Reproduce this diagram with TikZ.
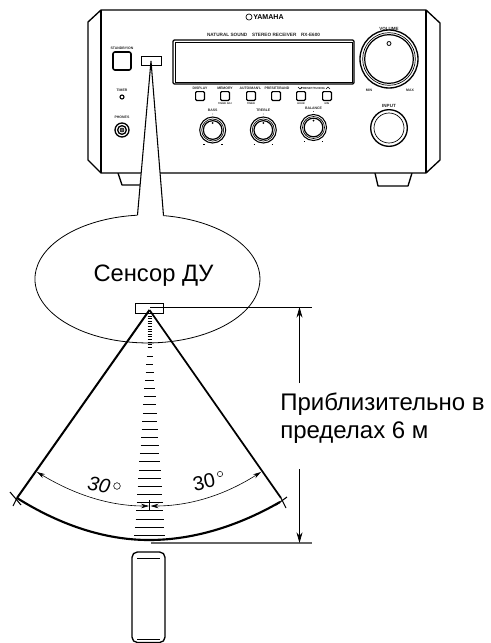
\documentclass[tikz,border=0pt]{standalone}
\usepackage{fontspec}
\setmainfont{Liberation Sans}
\usetikzlibrary{arrows.meta}
\tikzset{
 x=0.75pt,y=-0.75pt,
 lab/.style={font=\fontsize{2.6pt}{2.6pt}\selectfont\bfseries,inner sep=0,text=black!85},
 labbig/.style={font=\fontsize{3.4pt}{3.4pt}\selectfont\bfseries,inner sep=0,text=black!85},
 labsm/.style={font=\fontsize{1.9pt}{1.9pt}\selectfont\bfseries,inner sep=0,text=black!85},
 btn/.style={draw,line width=0.9pt,rounded corners=0.8pt,minimum size=6.6pt,inner sep=0},
 body/.style={line width=1pt,line join=round},
 big/.style={font=\fontsize{17.8pt}{17.8pt}\selectfont,inner sep=0},
 dimline/.style={line width=0.6pt},
 dimtip/.style={-{Stealth[length=8pt,width=4.5pt]}},
 angletip/.style={{Stealth[length=6pt,width=3.4pt]}-{Stealth[length=6pt,width=3.4pt]}},
 rung/.style={line width=0.7pt},
}
\begin{document}
\begin{tikzpicture}
\useasboundingbox (0,0) rectangle (491,643);
\fill[white] (0,0) rectangle (491,643);
% feet
\draw[body] (118,173) -- (122,185) -- (158,185);
\draw[body] (375,173) -- (378,186) -- (408,186) -- (412,173);
% chassis
\draw[body,fill=white] (101,10) -- (426,10) -- (440,23) -- (440,160) -- (426,173) -- (101,173) -- (88,160) -- (88,22) -- cycle;
\draw[body] (101,10) -- (101,173);
\draw[body] (426,10) -- (426,173);
% logo
\node[draw,circle,line width=0.5pt,minimum size=4.6pt,inner sep=0] (logoc) at (249,17) {};
\node[inner sep=0,font=\fontsize{5.3pt}{5.3pt}\selectfont\bfseries,anchor=west] (logo) at (253,17) {YAMAHA};
\node[lab,font=\fontsize{3.5pt}{3.5pt}\selectfont\bfseries] (ns) at (263.5,35) {NATURAL SOUND\quad STEREO RECEIVER\quad RX-E600};
% display
\draw[line width=0.9pt,rounded corners=1pt] (173,40) rectangle (354,84);
\draw[line width=0.4pt] (175,42) rectangle (352,82);
% standby
\node[lab] (sbl) at (122,48) {STANDBY/ON};
\node[draw,line width=1.2pt,rounded corners=1.5pt,minimum size=13.5pt,inner sep=0] (sb) at (122,61) {};
% sensor window
\node[draw,line width=0.9pt,minimum width=15.5pt,minimum height=7pt,inner sep=0] (win) at (151.5,61) {};
\coordinate (apex) at (151,61);
% timer + phones
\node[lab] (tml) at (122,90) {TIMER};
\node[draw,circle,line width=0.8pt,minimum size=3pt,inner sep=0] (led) at (122,97) {};
\node[lab] (phl) at (122,117) {PHONES};
\node[draw,circle,line width=1pt,minimum size=10.5pt,inner sep=0] (jack) at (122,130) {};
\node[draw,circle,line width=1pt,minimum size=6.5pt,inner sep=0] (jack2) at (122,130) {};
\node[draw,circle,fill=black!60,line width=0.4pt,minimum size=3pt,inner sep=0] (jack3) at (122,130) {};
% buttons
\node[btn] (b1) at (200,96) {}; \node[lab] (t1) at (200,88) {DISPLAY};
\node[btn] (b2) at (225,96) {}; \node[lab] (t2) at (225,88) {MEMORY}; \node[labsm] (u2) at (225,104) {TIMER ADJ};
\node[btn] (b3) at (251,96) {}; \node[lab] (t3) at (250.5,88) {AUTO/MAN'L}; \node[labsm] (u3) at (251,104) {TIMER};
\node[btn] (b4) at (276,96) {}; \node[lab] (t4) at (277,88) {PRESET/BAND};
\node[btn] (b5) at (301,96) {}; \node[labsm] (u5) at (301,104) {HOUR};
\node[btn] (b6) at (327,96) {}; \node[labsm] (u6) at (327,104) {MIN};
\node[labsm,font=\fontsize{2.2pt}{2.2pt}\selectfont\bfseries] (t56) at (313,88) {PRESET/TUNING};
\draw[line width=0.4pt] (298,87) -- (300,89) -- (302,87) (326,89) -- (328,87) -- (330,89);
% knobs
\foreach \n/\x/\y/\t in {ka/212.7/130/BASS,kb/263.3/130/TREBLE,kc/313.5/127.5/BALANCE}{
  \node[draw,circle,line width=0.8pt,minimum size=19.5pt,inner sep=0] (\n) at (\x,\y) {};
  \node[draw,circle,line width=0.5pt,minimum size=16.5pt,inner sep=0] (\n i) at (\x,\y) {};
  \node[draw,circle,line width=0.9pt,minimum size=14pt,inner sep=0] (\n j) at (\x,\y) {};
  \fill (\x,\y-7) circle (1);
  \node[lab] (\n t) at (\x,\y-19.5) {\t};
  \fill (\x,\y-16) circle (0.4);
  \draw[line width=0.3pt] (\x-9.6,\y+14) -- ++(1.4,0) (\x+8.4,\y+14) -- ++(1.4,0);
}
% volume + input
\node[labbig] (vl) at (389,28.5) {VOLUME};
\node[draw,circle,line width=1pt,minimum size=43.5pt,inner sep=0] (v1) at (389,59) {};
\node[draw,circle,line width=0.5pt,minimum size=39.5pt,inner sep=0] (v2) at (389,59) {};
\node[draw,circle,line width=0.9pt,minimum size=36.5pt,inner sep=0] (v3) at (389,59) {};
\node[draw,circle,line width=0.6pt,minimum size=3pt,inner sep=0] (v4) at (389,43.5) {};
\node[lab] (mn) at (369,90.5) {MIN};
\node[lab] (mx) at (410,90.5) {MAX};
\node[labbig] (il) at (389,106) {INPUT};
\node[draw,circle,line width=1pt,minimum size=27.5pt,inner sep=0] (i1) at (389,128) {};
\node[draw,circle,line width=0.5pt,minimum size=22.5pt,inner sep=0] (i2) at (389,128) {};
% callout
\coordinate (ll) at (137.5,215);
\coordinate (lr) at (163.5,215.6);
\fill[white] (apex) -- (ll) -- (lr) -- cycle;
\draw[line width=0.8pt] (ll) -- (apex) -- (lr);
\draw[line width=0.6pt] (lr) arc[start angle=-81.8,end angle=264.9,x radius=112.5,y radius=64];
\node[big] (sens) at (153.5,276) {Сенсор ДУ};
% sensor at lower
\node[draw,line width=0.8pt,minimum width=21.5pt,minimum height=8pt,inner sep=0] (rs) at (149.5,308.5) {};
\coordinate (ap) at (149.5,310);
\coordinate (fl) at (17,498);
\coordinate (fr) at (281,498);
\draw[line width=1.5pt] (ap) -- (fl);
\draw[line width=1.3pt] (ap) -- (fr);
\draw[line width=0.8pt] (fl) -- (13,506);
\draw[line width=0.8pt] (fr) -- (286,508);
\draw[line width=0.8pt] (10,492) -- (21,505);
\draw[line width=0.8pt] (287,497) -- (276,505);
\draw[line width=1.6pt] (17,498) .. controls (60,525) and (105,540) .. (149,540) .. controls (195,540) and (240,525) .. (280,502);
% rungs
\foreach \i in {0,...,12}{ \draw[line width=0.6pt] (147.5,{316+\i*2.6}) -- (151.5,{316+\i*2.6}); }
\foreach \i [evaluate=\i as \w using {3+\i*0.56},evaluate=\i as \yy using {356+\i*8.15}] in {0,...,22}{
  \draw[rung] (149.7-\w,\yy) -- (149.7+\w,\yy);
}
% angle arrows
\coordinate (a1) at (37,472);
\coordinate (a2) at (149,506);
\coordinate (a3) at (261,472);
\coordinate (a4) at (150.5,506);
\draw[line width=0.45pt,angletip] (a1) .. controls (75,495) and (110,506) .. (a2);
\draw[line width=0.45pt,angletip] (a3) .. controls (225,495) and (190,506) .. (a4);
\draw[line width=0.5pt] (149.7,500) -- (149.7,510);
\node[big,font=\fontsize{15pt}{15pt}\selectfont\itshape,rotate=-12] (an1) at (99,485) {30};
\node[big,font=\fontsize{15pt}{15pt}\selectfont,rotate=12] (an2) at (204,482) {30};
\node[draw,circle,line width=0.4pt,minimum size=5pt,inner sep=0] (d1) at (117,486) {};
\node[draw,circle,line width=0.4pt,minimum size=4pt,inner sep=0] (d2) at (220,474) {};
% dimensions
\coordinate (dt) at (312,307);
\coordinate (db) at (312,543);
\coordinate (mt) at (299.5,307);
\coordinate (mb) at (299.5,543);
\coordinate (vt) at (299.5,383);
\coordinate (vb) at (299.5,469);
\draw[dimline] (150,307) -- (dt);
\draw[line width=1.1pt,black!60] (151,543) -- (db);
\draw[dimline,dimtip] (vt) -- (mt);
\draw[dimline,dimtip] (vb) -- (mb);
\node[big,font=\fontsize{18pt}{18pt}\selectfont,anchor=base west] (t1x) at (280,410) {Приблизительно в};
\node[big,font=\fontsize{18pt}{18pt}\selectfont,anchor=base west] (t2x) at (280,438) {пределах 6 м};
% remote
\draw[line width=1pt,rounded corners=4pt] (132,642.5) -- (132,552) -- (165,552) -- (165,642.5) -- cycle;
\draw[line width=0.6pt] (137,558) -- (160,558) (137,639) -- (160,639);
\end{tikzpicture}
\end{document}
